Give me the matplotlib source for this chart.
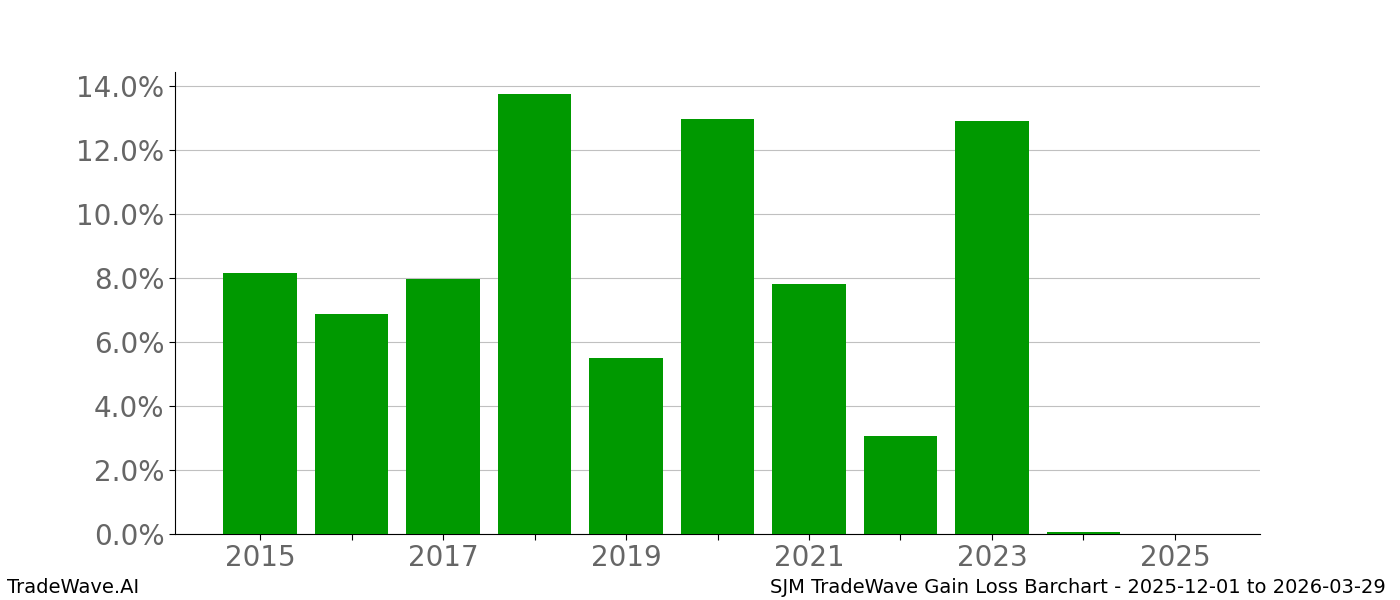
import matplotlib
matplotlib.use("Agg")
import matplotlib.pyplot as plt
from matplotlib.ticker import FuncFormatter

# yearly gain/loss in percent
years = [2015, 2016, 2017, 2018, 2019, 2020, 2021, 2022, 2023, 2024, 2025]
gains = [8.15, 6.87, 7.96, 13.75, 5.50, 12.96, 7.81, 3.06, 12.91, 0.07, 0.0]

fig = plt.figure(figsize=(14, 6), dpi=100)
ax = fig.add_axes([0.125, 0.11, 0.775, 0.77])

ax.bar(years, gains, width=0.8, color="#009900", zorder=3)

ax.set_xlim(2014.07, 2025.93)
ax.set_ylim(0, 14.44)
ax.set_yticks([0, 2, 4, 6, 8, 10, 12, 14])
ax.yaxis.set_major_formatter(FuncFormatter(lambda v, p: f"{v:.1f}%"))
ax.set_xticks(years)
ax.set_xticklabels([str(y) if y % 2 == 1 else "" for y in years])
ax.tick_params(axis="both", labelsize=20, labelcolor="#666666", length=4)
ax.grid(axis="y", color="#c0c0c0", linewidth=0.8, zorder=0)
ax.spines["top"].set_visible(False)
ax.spines["right"].set_visible(False)

fig.text(0.005, 0.012, "TradeWave.AI", fontsize=14, ha="left", va="baseline")
fig.text(0.99, 0.012, "SJM TradeWave Gain Loss Barchart - 2025-12-01 to 2026-03-29",
         fontsize=14, ha="right", va="baseline")

fig.savefig("out.png", dpi=100)
